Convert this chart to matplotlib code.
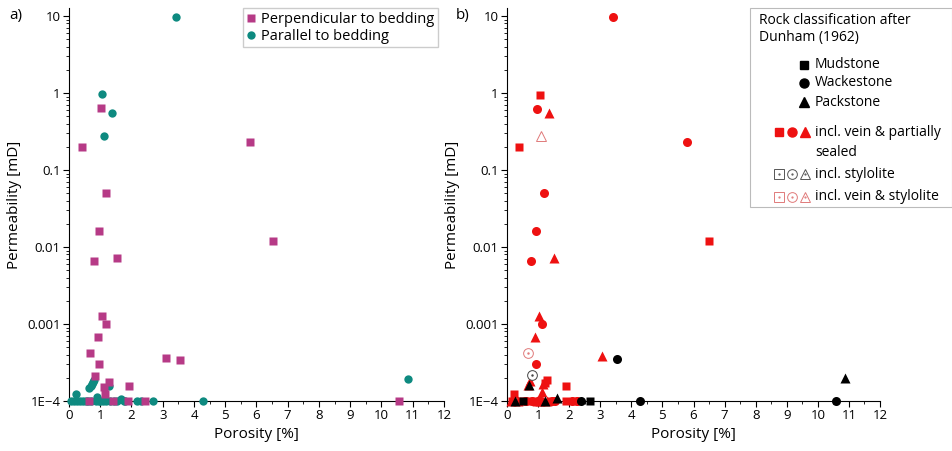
import matplotlib
matplotlib.use("Agg")
import matplotlib.pyplot as plt
from matplotlib.lines import Line2D
from matplotlib.patches import Rectangle
from matplotlib.ticker import MultipleLocator, LogLocator, NullFormatter

plt.rcParams['font.family'] = ['Open Sans', 'DejaVu Sans']

# panel a) -- measurement direction
perp_x = [0.42, 1.02, 5.79, 1.2, 0.97, 0.8, 1.53, 6.52, 1.06, 1.18, 0.93, 0.67, 0.96,
          3.09, 3.55, 0.84, 1.28, 1.12, 1.91, 1.16, 10.57, 0.65, 1.41, 1.89, 2.43]
perp_y = [0.2, 0.63, 0.23, 0.051, 0.016, 0.0065, 0.0071, 0.012, 0.00127, 0.001, 0.00067,
          0.00042, 0.0003, 0.00036, 0.00034, 0.00021, 0.000178, 0.000152, 0.000155,
          0.000123, 1e-4, 1e-4, 1e-4, 1e-4, 1e-4]

par_x = [3.41, 1.07, 1.37, 1.12, 10.85, 4.29, 2.68, 2.19, 2.3, 0.65, 0.7, 0.73, 0.78,
         0.8, 1.27, 0.24, 0.9, 1.65, 0.05, 0.15, 0.25, 0.35, 0.45, 0.55, 0.6, 0.7, 0.85,
         0.95, 1.0, 1.1, 1.2, 1.3, 1.45, 1.55, 1.75, 1.8]
par_y = [9.7, 0.97, 0.55, 0.28, 0.000195, 1e-4, 1e-4, 1e-4, 1e-4, 0.000146, 0.000155,
         0.000165, 0.000178, 0.000185, 0.000155, 0.000123, 0.000112, 0.000106, 1e-4,
         1e-4, 1e-4, 1e-4, 1e-4, 1e-4, 1e-4, 1e-4, 1e-4, 1e-4, 1e-4, 1e-4, 1e-4, 1e-4,
         1e-4, 1e-4, 1e-4, 1e-4]

# panel b) -- Dunham classes (red = vein & partially sealed)
red_sq_x = [1.05, 0.37, 6.51, 1.28, 1.22, 1.9, 0.21, 0.15, 0.45, 0.65, 0.9, 1.4, 1.9, 2.2]
red_sq_y = [0.95, 0.2, 0.012, 0.000185, 0.00017, 0.000155, 0.000123, 1e-4, 1e-4, 1e-4,
            1e-4, 1e-4, 1e-4, 1e-4]
red_ci_x = [3.4, 0.98, 5.79, 1.18, 0.94, 0.77, 1.14, 0.94, 0.6, 0.8, 1.0, 1.1, 1.45,
            1.55, 2.1, 2.25]
red_ci_y = [9.7, 0.62, 0.23, 0.05, 0.016, 0.0065, 0.001, 0.0003, 1e-4, 1e-4, 1e-4,
            1e-4, 1e-4, 1e-4, 1e-4, 1e-4]
red_tr_x = [1.34, 1.52, 1.03, 0.91, 3.07, 0.67, 0.75, 1.15, 1.12, 0.12, 0.35, 0.95,
            1.05, 1.3]
red_tr_y = [0.55, 0.0072, 0.00128, 0.00068, 0.00038, 0.00016, 0.00018, 0.000165,
            0.00013, 1e-4, 1e-4, 1e-4, 1e-4, 1e-4]
blk_sq_x = [2.68, 0.5]
blk_sq_y = [1e-4, 1e-4]
blk_ci_x = [3.53, 4.29, 10.59, 2.38]
blk_ci_y = [0.00035, 1e-4, 1e-4, 1e-4]
blk_tr_x = [10.88, 1.23, 1.62, 0.27, 0.72]
blk_tr_y = [0.0002, 1e-4, 0.000108, 1e-4, 0.00016]
sty_ci_x = [0.8]
sty_ci_y = [0.00022]
vsty_ci_x = [0.66]
vsty_ci_y = [0.00042]
vsty_tr_x = [1.1]
vsty_tr_y = [0.28]

yticks = [1e-4, 1e-3, 1e-2, 1e-1, 1, 10]
ylabels = ['1E\u22124', '0.001', '0.01', '0.1', '1', '10']

MAG = '#b63a86'
TEAL = '#0e8a80'
RED = '#ee1111'
PINK = '#e07a7a'

W, H = 953, 451


def fx(x):
    return x / W


def fy(y):
    return 1 - y / H


def style_axes(ax):
    ax.set_yscale('log')
    ax.set_xlim(0, 12)
    ax.set_ylim(1e-4, 12.7)
    ax.spines['top'].set_visible(False)
    ax.spines['right'].set_visible(False)
    ax.set_yticks(yticks)
    ax.set_yticklabels(ylabels)
    ax.yaxis.set_minor_locator(LogLocator(base=10, subs=range(2, 10)))
    ax.yaxis.set_minor_formatter(NullFormatter())
    ax.xaxis.set_major_locator(MultipleLocator(1))
    ax.xaxis.set_minor_locator(MultipleLocator(0.5))
    ax.tick_params(which='major', length=4, labelsize=9.5, pad=2)
    ax.tick_params(which='minor', length=2)
    ax.set_xlabel('Porosity [%]', fontsize=11, labelpad=3)
    ax.set_ylabel('Permeability [mD]', fontsize=11, labelpad=4)


fig = plt.figure(figsize=(W / 100, H / 100), dpi=100)
ax1 = fig.add_axes([fx(69), fy(401), fx(444) - fx(69), fy(8) - fy(401)])
ax2 = fig.add_axes([fx(507), fy(401), fx(880) - fx(507), fy(8) - fy(401)])

style_axes(ax1)
ax1.plot(par_x, par_y, 'o', color=TEAL, ms=6, mec='none', clip_on=False, zorder=3,
         label='Parallel to bedding')
ax1.plot(perp_x, perp_y, 's', color=MAG, ms=5.5, mec='none', clip_on=False, zorder=4,
         label='Perpendicular to bedding')
h, l = ax1.get_legend_handles_labels()
leg = ax1.legend(h[::-1], l[::-1], loc='upper right', bbox_to_anchor=(0.984, 1.0),
                 borderaxespad=0, fontsize=10.5, fancybox=False, handlelength=0.6,
                 handletextpad=0.4, borderpad=0.25, labelspacing=0.15,
                 framealpha=1)
leg.get_frame().set_edgecolor('#cccccc')

style_axes(ax2)
kw = dict(clip_on=False, linestyle='none')
ax2.plot(red_sq_x, red_sq_y, 's', color=RED, ms=5.5, mec='none', zorder=3, **kw)
ax2.plot(red_ci_x, red_ci_y, 'o', color=RED, ms=6.5, mec='none', zorder=3, **kw)
ax2.plot(red_tr_x, red_tr_y, '^', color=RED, ms=6.5, mec='none', zorder=3, **kw)
ax2.plot(blk_sq_x, blk_sq_y, 's', color='black', ms=5.5, mec='none', zorder=4, **kw)
ax2.plot(blk_ci_x, blk_ci_y, 'o', color='black', ms=6.5, mec='none', zorder=4, **kw)
ax2.plot(blk_tr_x, blk_tr_y, '^', color='black', ms=6.5, mec='none', zorder=4, **kw)
ax2.plot(sty_ci_x, sty_ci_y, 'o', mfc='white', mec='#444444', mew=0.7, ms=7, zorder=4, **kw)
ax2.plot(sty_ci_x, sty_ci_y, '.', color='#444444', ms=1.5, zorder=5, **kw)
ax2.plot(vsty_ci_x, vsty_ci_y, 'o', mfc='white', mec=PINK, mew=0.7, ms=7, zorder=4, **kw)
ax2.plot(vsty_ci_x, vsty_ci_y, '.', color=PINK, ms=1.5, zorder=5, **kw)
ax2.plot(vsty_tr_x, vsty_tr_y, '^', mfc='white', mec=PINK, mew=0.7, ms=7.5, zorder=4, **kw)

fig.text(fx(9), fy(16), 'a)', fontsize=11, va='center')
fig.text(fx(456), fy(16), 'b)', fontsize=11, va='center')

# hand-built legend for panel b
fig.add_artist(Rectangle((fx(750), fy(207)), fx(952) - fx(750), fy(8) - fy(207),
                         transform=fig.transFigure, facecolor='white',
                         edgecolor='#bbbbbb', lw=0.8, zorder=10))


def ltext(x, y, s):
    fig.text(fx(x), fy(y), s, fontsize=10, va='center', ha='left', zorder=11)


def lmark(x, y, m, **k):
    fig.add_artist(Line2D([fx(x)], [fy(y)], marker=m, linestyle='none',
                          transform=fig.transFigure, zorder=11, **k))


ltext(759, 20, 'Rock classification after')
ltext(759, 38, 'Dunham (1962)')
for yy, m, lab in [(65, 's', 'Mudstone'), (83, 'o', 'Wackestone'), (102, '^', 'Packstone')]:
    lmark(804, yy, m, color='black', ms=6.5 if m != 's' else 5.5)
    ltext(815, yy, lab)
for xx, m in [(779, 's'), (792, 'o'), (805, '^')]:
    lmark(xx, 132, m, color=RED, ms=6.5 if m != 's' else 5.5)
ltext(815, 132, 'incl. vein & partially')
ltext(815, 152, 'sealed')
for yy, c, lab in [(174, '#555555', 'incl. stylolite'), (197, PINK, 'incl. vein & stylolite')]:
    for xx, m in [(779, 's'), (792, 'o'), (805, '^')]:
        lmark(xx, yy, m, mfc='white', mec=c, mew=0.7, ms=7)
        lmark(xx, yy, '.', color=c, ms=1.2)
    ltext(815, yy, lab)

fig.savefig('out.png', dpi=100)
